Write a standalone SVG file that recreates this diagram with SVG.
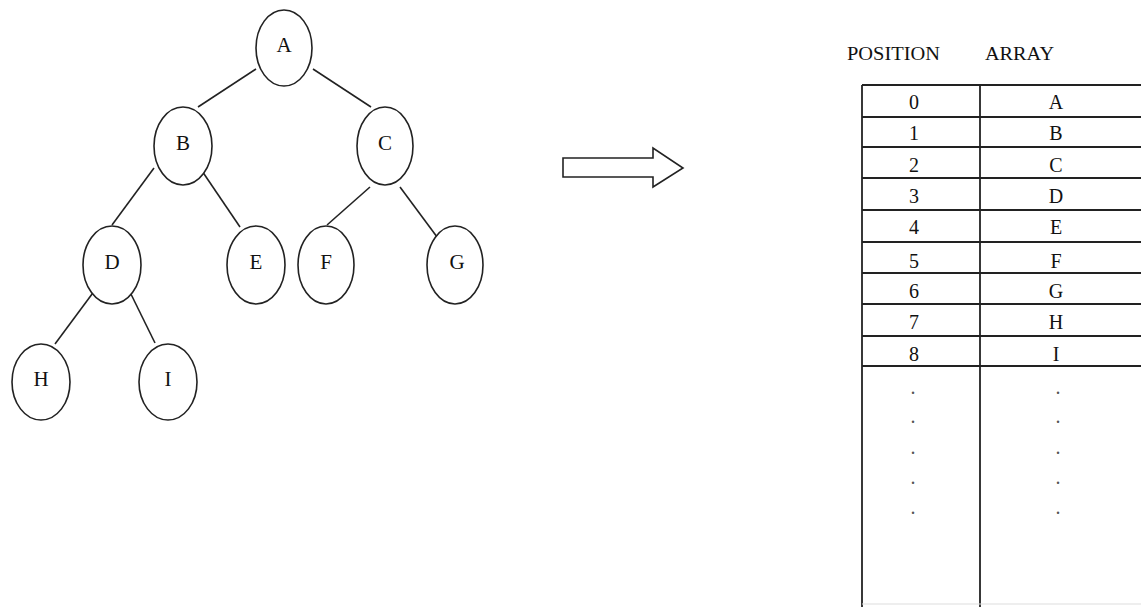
<svg xmlns="http://www.w3.org/2000/svg" width="1141" height="607" viewBox="0 0 1141 607">
<style>
.node ellipse{fill:#fff;stroke:#222;stroke-width:1.6}
.node text{font-family:"Liberation Serif",serif;font-size:21px;fill:#111;text-anchor:middle}
.edges line{stroke:#222;stroke-width:1.6}
.tbl line{stroke:#222;stroke-width:1.8}
.cell{font-family:"Liberation Serif",serif;font-size:20px;fill:#111;text-anchor:middle}
.hdr{font-family:"Liberation Serif",serif;font-size:19px;fill:#111}
.dot{font-family:"Liberation Serif",serif;font-size:20px;fill:#555;text-anchor:middle}
</style>
<rect width="1141" height="607" fill="#fff"/>
<g id="edges" class="edges">
<line x1="256" y1="69" x2="198" y2="107"/>
<line x1="313" y1="69" x2="371" y2="107"/>
<line x1="154" y1="168" x2="112" y2="225"/>
<line x1="200" y1="168" x2="240" y2="227"/>
<line x1="370" y1="187" x2="327" y2="225"/>
<line x1="400" y1="187" x2="443" y2="245"/>
<line x1="98" y1="286" x2="55" y2="344"/>
<line x1="127" y1="286" x2="155" y2="343"/>
</g>
<g id="node-A" class="node"><ellipse cx="284" cy="48" rx="28" ry="38"/><text x="284" y="52">A</text></g>
<g id="node-B" class="node"><ellipse cx="183" cy="146" rx="29" ry="39"/><text x="183" y="150">B</text></g>
<g id="node-C" class="node"><ellipse cx="385" cy="146" rx="28" ry="39"/><text x="385" y="150">C</text></g>
<g id="node-D" class="node"><ellipse cx="112" cy="265" rx="29" ry="39"/><text x="112" y="269">D</text></g>
<g id="node-E" class="node"><ellipse cx="256" cy="265" rx="29" ry="39"/><text x="256" y="269">E</text></g>
<g id="node-F" class="node"><ellipse cx="326" cy="265" rx="28" ry="39"/><text x="326" y="269">F</text></g>
<g id="node-G" class="node"><ellipse cx="455" cy="265" rx="28" ry="39"/><text x="457" y="269">G</text></g>
<g id="node-H" class="node"><ellipse cx="41" cy="382" rx="29" ry="38"/><text x="41" y="386">H</text></g>
<g id="node-I" class="node"><ellipse cx="168" cy="382" rx="29" ry="38"/><text x="168" y="386">I</text></g>
<g id="arrow">
<polygon points="563,158 653,158 653,148 683,168 653,187 653,177 563,177" fill="#fff" stroke="#222" stroke-width="1.6"/>
</g>
<g id="table">
<text class="hdr" x="847" y="60" textLength="93" lengthAdjust="spacingAndGlyphs">POSITION</text>
<text class="hdr" x="985" y="60" textLength="69" lengthAdjust="spacingAndGlyphs">ARRAY</text>
<g class="tbl">
<line x1="862" y1="85" x2="862" y2="607"/>
<line x1="980" y1="85" x2="980" y2="607"/>
<line x1="862" y1="85" x2="1141" y2="85"/>
<line x1="862" y1="117" x2="1141" y2="117"/>
<line x1="862" y1="147" x2="1141" y2="147"/>
<line x1="862" y1="178" x2="1141" y2="178"/>
<line x1="862" y1="210" x2="1141" y2="210"/>
<line x1="862" y1="242" x2="1141" y2="242"/>
<line x1="862" y1="273" x2="1141" y2="273"/>
<line x1="862" y1="304" x2="1141" y2="304"/>
<line x1="862" y1="336" x2="1141" y2="336"/>
<line x1="862" y1="366" x2="1141" y2="366"/>
<line x1="862" y1="604" x2="1141" y2="604" style="stroke:#ddd;stroke-width:1"/>
</g>
<text class="cell" x="914" y="109">0</text><text class="cell" x="1056" y="109">A</text>
<text class="cell" x="914" y="140">1</text><text class="cell" x="1056" y="140">B</text>
<text class="cell" x="914" y="172">2</text><text class="cell" x="1056" y="172">C</text>
<text class="cell" x="914" y="203">3</text><text class="cell" x="1056" y="203">D</text>
<text class="cell" x="914" y="234">4</text><text class="cell" x="1056" y="234">E</text>
<text class="cell" x="914" y="268">5</text><text class="cell" x="1056" y="268">F</text>
<text class="cell" x="914" y="298">6</text><text class="cell" x="1056" y="298">G</text>
<text class="cell" x="914" y="329">7</text><text class="cell" x="1056" y="329">H</text>
<text class="cell" x="914" y="361">8</text><text class="cell" x="1056" y="361">I</text>
<text class="dot" x="913" y="394">.</text><text class="dot" x="1058" y="394">.</text>
<text class="dot" x="913" y="423">.</text><text class="dot" x="1058" y="423">.</text>
<text class="dot" x="913" y="454">.</text><text class="dot" x="1058" y="454">.</text>
<text class="dot" x="913" y="484">.</text><text class="dot" x="1058" y="484">.</text>
<text class="dot" x="913" y="514">.</text><text class="dot" x="1058" y="514">.</text>
</g>
</svg>
